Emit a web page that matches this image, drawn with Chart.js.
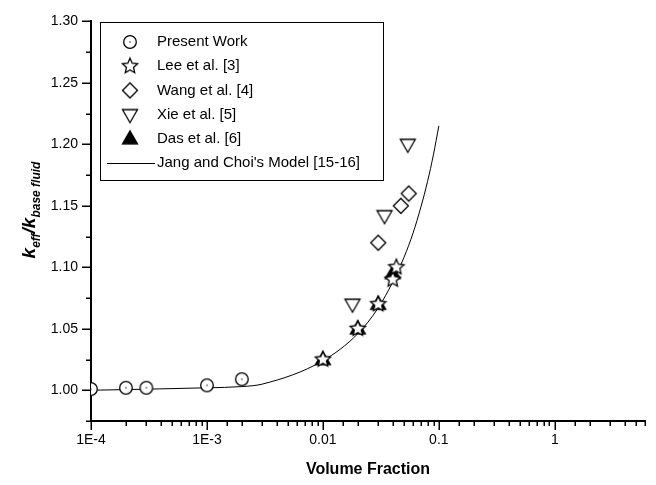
<!DOCTYPE html>
<html>
<head>
<meta charset="utf-8">
<script src="https://cdn.jsdelivr.net/npm/chart.js@4.4.1/dist/chart.umd.min.js"></script>
<style>
  body { margin: 0; background: #fff; }
  canvas { display: block; }
</style>
</head>
<body>
<canvas id="kChart" width="656" height="485"></canvas>
<script>
// data
const presentX = [1e-4, 2e-4, 3e-4, 1e-3, 2e-3];
const presentY = [1.001, 1.002, 1.002, 1.004, 1.009];
const leeX = [0.01, 0.02, 0.03, 0.04, 0.043];
const leeY = [1.025, 1.05, 1.07, 1.09, 1.10];
const wangX = [0.03, 0.047, 0.055];
const wangY = [1.12, 1.15, 1.16];
const xieX = [0.018, 0.034, 0.054];
const xieY = [1.07, 1.142, 1.20];
const dasX = [0.01, 0.02, 0.03, 0.04];
const dasY = [1.025, 1.05, 1.07, 1.095];
const modelX = [1e-4, 1e-3, 2e-3, 3e-3, 0.01, 0.02, 0.03, 0.04, 0.05, 0.06, 0.07, 0.08, 0.09, 0.1];
const modelY = [1.000, 1.002, 1.003, 1.005, 1.024, 1.046, 1.067, 1.088, 1.108, 1.128, 1.149, 1.170, 1.192, 1.215];

const seriesNames = ['Present Work', 'Lee et al. [3]', 'Wang et al. [4]', 'Xie et al. [5]', 'Das et al. [6]', "Jang and Choi's Model [15-16]"];
const xTickValues = [1e-4, 1e-3, 0.01, 0.1, 1];
const xTickLabels = ['1E-4', '1E-3', '0.01', '0.1', '1'];

const FONT = "'Liberation Sans', Arial, sans-serif";

const toPoints = (xs, ys) => xs.map((x, i) => ({ x: x, y: ys[i] }));

// marker images
function makeMarker(size, draw) {
    const c = document.createElement('canvas');
    c.width = size;
    c.height = size;
    const g = c.getContext('2d');
    g.translate(size / 2, size / 2);
    g.lineWidth = 1.3;
    g.strokeStyle = '#000';
    g.fillStyle = '#fff';
    draw(g);
    return c;
}

const circleMarker = makeMarker(18, g => {
    g.beginPath();
    g.arc(0, 0, 6.3, 0, Math.PI * 2);
    g.fill();
    g.stroke();
    g.fillStyle = '#000';
    g.fillRect(-0.6, -0.6, 1.2, 1.2);
});

const starMarker = makeMarker(22, g => {
    g.beginPath();
    for (let i = 0; i < 10; i++) {
        const r = i % 2 === 0 ? 8 : 3.7;
        const a = -Math.PI / 2 + i * Math.PI / 5;
        if (i === 0) g.moveTo(r * Math.cos(a), r * Math.sin(a));
        else g.lineTo(r * Math.cos(a), r * Math.sin(a));
    }
    g.closePath();
    g.fill();
    g.stroke();
});

const diamondMarker = makeMarker(22, g => {
    g.beginPath();
    g.moveTo(0, -7.5);
    g.lineTo(7.5, 0);
    g.lineTo(0, 7.5);
    g.lineTo(-7.5, 0);
    g.closePath();
    g.fill();
    g.stroke();
});

const downTriMarker = makeMarker(22, g => {
    g.beginPath();
    g.moveTo(-7.5, -5);
    g.lineTo(7.5, -5);
    g.lineTo(0, 8);
    g.closePath();
    g.fill();
    g.stroke();
});

const upTriMarker = makeMarker(22, g => {
    g.fillStyle = '#000';
    g.beginPath();
    g.moveTo(0, -8);
    g.lineTo(7.5, 5);
    g.lineTo(-7.5, 5);
    g.closePath();
    g.fill();
    g.stroke();
});

const markers = [circleMarker, starMarker, diamondMarker, downTriMarker, upTriMarker];

const isDecade = v => Math.abs(Math.log10(v) - Math.round(Math.log10(v))) < 1e-6;
const isMajorY = v => Math.abs(v * 20 - Math.round(v * 20)) < 1e-6;
const isStepY = v => Math.abs(v * 40 - Math.round(v * 40)) < 1e-6;

// tick marks, legend and y title
const extrasPlugin = {
    id: 'extras',
    afterDraw(chart) {
        const ctx = chart.ctx;
        const area = chart.chartArea;
        const xs = chart.scales.x;
        const ys = chart.scales.y;
        ctx.save();
        ctx.strokeStyle = '#000';
        ctx.lineWidth = 1.5;
        ctx.beginPath();
        xs.ticks.forEach(t => {
            const px = Math.round(xs.getPixelForValue(t.value)) + 0.25;
            const len = isDecade(t.value) ? 9 : 5;
            ctx.moveTo(px, area.bottom);
            ctx.lineTo(px, area.bottom + len);
        });
        ys.ticks.forEach(t => {
            if (!isStepY(t.value)) return;
            const py = Math.round(ys.getPixelForValue(t.value)) + 0.25;
            const len = isMajorY(t.value) ? 9 : 5;
            ctx.moveTo(area.left, py);
            ctx.lineTo(area.left - len, py);
        });
        ctx.stroke();

        // legend box
        const bx = 100, by = 22, bw = 283, bh = 158, rowH = 24.2;
        ctx.lineWidth = 1;
        ctx.strokeRect(bx + 0.5, by + 0.5, bw, bh);
        ctx.font = '15px ' + FONT;
        ctx.fillStyle = '#000';
        ctx.textBaseline = 'middle';
        ctx.textAlign = 'left';
        seriesNames.forEach((name, i) => {
            const cy = by + 20 + i * rowH;
            if (i < markers.length) {
                const m = markers[i];
                ctx.drawImage(m, 130 - m.width / 2, cy - m.height / 2);
            } else {
                ctx.beginPath();
                ctx.moveTo(107, Math.round(cy) + 0.5);
                ctx.lineTo(155, Math.round(cy) + 0.5);
                ctx.stroke();
            }
            ctx.fillText(name, 157, cy);
        });

        // y axis title with subscripts
        const parts = [
            { t: 'k', f: 'italic bold 19px ' + FONT, dy: 0 },
            { t: 'eff', f: 'italic bold 12px ' + FONT, dy: 5 },
            { t: '/', f: 'italic bold 19px ' + FONT, dy: 0 },
            { t: 'k', f: 'italic bold 19px ' + FONT, dy: 0 },
            { t: 'base fluid', f: 'italic bold 12px ' + FONT, dy: 5 }
        ];
        let total = 0;
        parts.forEach(p => { ctx.font = p.f; p.w = ctx.measureText(p.t).width; total += p.w; });
        ctx.translate(29, 210);
        ctx.rotate(-Math.PI / 2);
        ctx.textBaseline = 'alphabetic';
        let cx = -total / 2;
        parts.forEach(p => {
            ctx.font = p.f;
            ctx.fillText(p.t, cx, 6 + p.dy);
            cx += p.w;
        });
        ctx.restore();
    }
};

new Chart(document.getElementById('kChart'), {
    type: 'scatter',
    data: {
        datasets: [
            { label: seriesNames[0], data: toPoints(presentX, presentY), pointStyle: circleMarker },
            { label: seriesNames[1], data: toPoints(leeX, leeY), pointStyle: starMarker },
            { label: seriesNames[2], data: toPoints(wangX, wangY), pointStyle: diamondMarker },
            { label: seriesNames[3], data: toPoints(xieX, xieY), pointStyle: downTriMarker },
            { label: seriesNames[4], data: toPoints(dasX, dasY), pointStyle: upTriMarker },
            {
                type: 'line',
                label: seriesNames[5],
                data: toPoints(modelX, modelY),
                borderColor: '#000',
                borderWidth: 1,
                pointRadius: 0,
                cubicInterpolationMode: 'monotone',
                fill: false
            }
        ]
    },
    options: {
        responsive: false,
        animation: false,
        devicePixelRatio: 1,
        layout: { padding: { top: 15, right: 10, left: 0, bottom: 0 } },
        plugins: {
            legend: { display: false },
            tooltip: { enabled: false }
        },
        scales: {
            x: {
                type: 'logarithmic',
                min: 1e-4,
                max: 6,
                grid: { display: false, drawTicks: false },
                border: { display: true, color: '#000', width: 2 },
                ticks: {
                    autoSkip: false,
                    maxRotation: 0,
                    padding: 11,
                    color: '#000',
                    font: { family: FONT, size: 14 },
                    callback: function (value) {
                        const i = xTickValues.findIndex(v => Math.abs(Math.log10(v) - Math.log10(value)) < 1e-6);
                        return i >= 0 ? xTickLabels[i] : '';
                    }
                },
                title: {
                    display: true,
                    text: 'Volume Fraction',
                    color: '#000',
                    font: { family: FONT, size: 16, weight: 'bold' },
                    padding: { top: 4, bottom: 6 }
                },
                afterFit: function (scale) { scale.height = 64; }
            },
            y: {
                min: 0.975,
                max: 1.30,
                grid: { display: false, drawTicks: false },
                border: { display: true, color: '#000', width: 2 },
                ticks: {
                    stepSize: 0.025,
                    includeBounds: false,
                    autoSkip: false,
                    padding: 13,
                    color: '#000',
                    font: { family: FONT, size: 14 },
                    callback: function (value) {
                        return isMajorY(value) ? value.toFixed(2) : '';
                    }
                },
                afterFit: function (scale) { scale.width = 91; }
            }
        }
    },
    plugins: [extrasPlugin]
});
</script>
</body>
</html>
